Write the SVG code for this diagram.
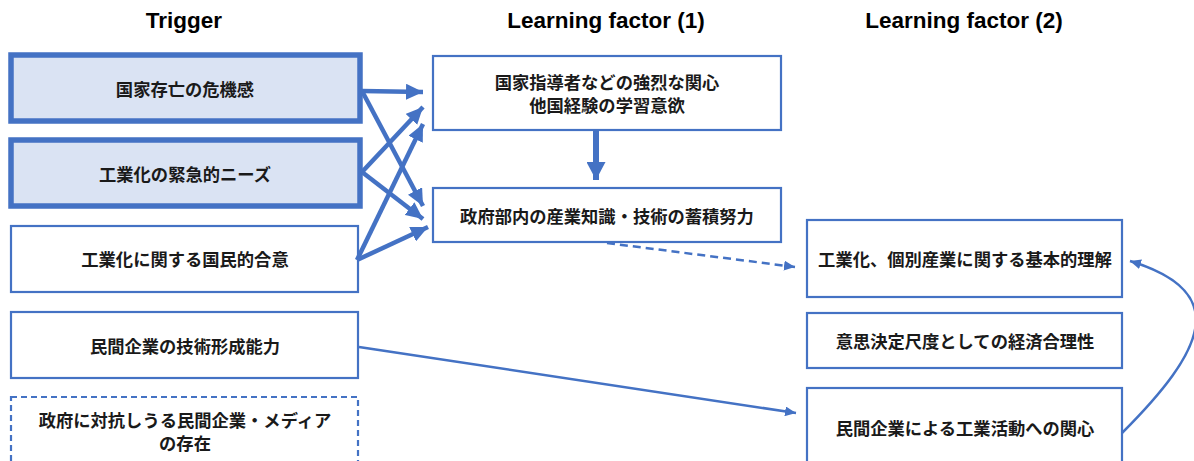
<svg xmlns="http://www.w3.org/2000/svg" width="1194" height="461" viewBox="0 0 1194 461">
<style>
.hdr{font-family:"Liberation Sans",Arial,sans-serif;font-weight:bold;font-size:22.5px;fill:#000;text-anchor:middle}
.t{font-family:"Noto Sans CJK JP","Noto Sans",sans-serif;font-weight:700;font-size:17.3px;fill:#1a1a1a;text-anchor:middle;dominant-baseline:central}
.box{fill:#fff;stroke:#4472C4;stroke-width:2.2}
.hot{fill:#DAE3F3;stroke:#4472C4;stroke-width:5.5}
.dash{fill:#fff;stroke:#4472C4;stroke-width:2.2;stroke-dasharray:6 4}
.thick{stroke:#4472C4;stroke-width:4.5;fill:none}
.thin{stroke:#4472C4;stroke-width:2.5;fill:none}
</style>
<defs>
<marker id="ah" markerUnits="userSpaceOnUse" markerWidth="17" markerHeight="16" refX="17" refY="8" orient="auto" viewBox="0 0 17 16">
<path d="M0,0 L17,8 L0,16 z" fill="#4472C4"/>
</marker>
<marker id="ahv" markerUnits="userSpaceOnUse" markerWidth="18" markerHeight="19" refX="18" refY="9.5" orient="auto" viewBox="0 0 18 19">
<path d="M0,0 L18,9.5 L0,19 z" fill="#4472C4"/>
</marker>
<marker id="as" markerUnits="userSpaceOnUse" markerWidth="11" markerHeight="10" refX="11" refY="5" orient="auto" viewBox="0 0 11 10">
<path d="M0,0 L11,5 L0,10 z" fill="#4472C4"/>
</marker>
</defs>

<g id="headers">
<text class="hdr" x="184" y="28">Trigger</text>
<text class="hdr" x="606" y="28">Learning factor (1)</text>
<text class="hdr" x="964" y="28">Learning factor (2)</text>
</g>

<g id="n1"><rect class="hot" x="11" y="55" width="349" height="66"/><text class="t" x="185" y="88">国家存亡の危機感</text></g>
<g id="n2"><rect class="hot" x="11" y="140" width="349" height="66"/><text class="t" x="185" y="173">工業化の緊急的ニーズ</text></g>
<g id="n3"><rect class="box" x="11" y="226" width="347" height="66"/><text class="t" x="185" y="258">工業化に関する国民的合意</text></g>
<g id="n4"><rect class="box" x="11" y="312" width="347" height="66"/><text class="t" x="185" y="345">民間企業の技術形成能力</text></g>
<g id="n5"><rect class="dash" x="11" y="397" width="347" height="80"/><text class="t" x="185" y="419">政府に対抗しうる民間企業・メディア</text><text class="t" x="185" y="442">の存在</text></g>

<g id="nA"><rect class="box" x="433" y="56" width="348" height="74"/><text class="t" x="607" y="81">国家指導者などの強烈な関心</text><text class="t" x="607" y="104">他国経験の学習意欲</text></g>
<g id="nB"><rect class="box" x="433" y="188" width="348" height="54"/><text class="t" x="607" y="215">政府部内の産業知識・技術の蓄積努力</text></g>

<g id="nC"><rect class="box" x="807" y="220" width="315" height="77"/><text class="t" x="965" y="258">工業化、個別産業に関する基本的理解</text></g>
<g id="nD"><rect class="box" x="807" y="313" width="315" height="55"/><text class="t" x="965" y="340">意思決定尺度としての経済合理性</text></g>
<g id="nE"><rect class="box" x="807" y="388" width="315" height="90"/><text class="t" x="965" y="427">民間企業による工業活動への関心</text></g>

<g id="connectors">
<line class="thick" x1="362" y1="91" x2="423" y2="92" marker-end="url(#ah)"/>
<line class="thick" x1="362" y1="91" x2="423" y2="206" marker-end="url(#ah)"/>
<line class="thick" x1="362" y1="172" x2="423" y2="107" marker-end="url(#ah)"/>
<line class="thick" x1="362" y1="172" x2="423" y2="219" marker-end="url(#ah)"/>
<line class="thick" x1="357" y1="260" x2="423" y2="124" marker-end="url(#ah)"/>
<line class="thick" x1="357" y1="260" x2="428" y2="227" marker-end="url(#ah)"/>
<line class="thick" x1="596" y1="130" x2="596" y2="180" style="stroke-width:6" marker-end="url(#ahv)"/>
<line class="thin" x1="607" y1="243" x2="795" y2="267" style="stroke-dasharray:8 5" marker-end="url(#as)"/>
<line class="thin" x1="359" y1="347" x2="796" y2="413" marker-end="url(#as)"/>
<path class="thin" d="M1122,433 C1205,350 1232,292 1130,261" marker-end="url(#as)"/>
</g>
</svg>
